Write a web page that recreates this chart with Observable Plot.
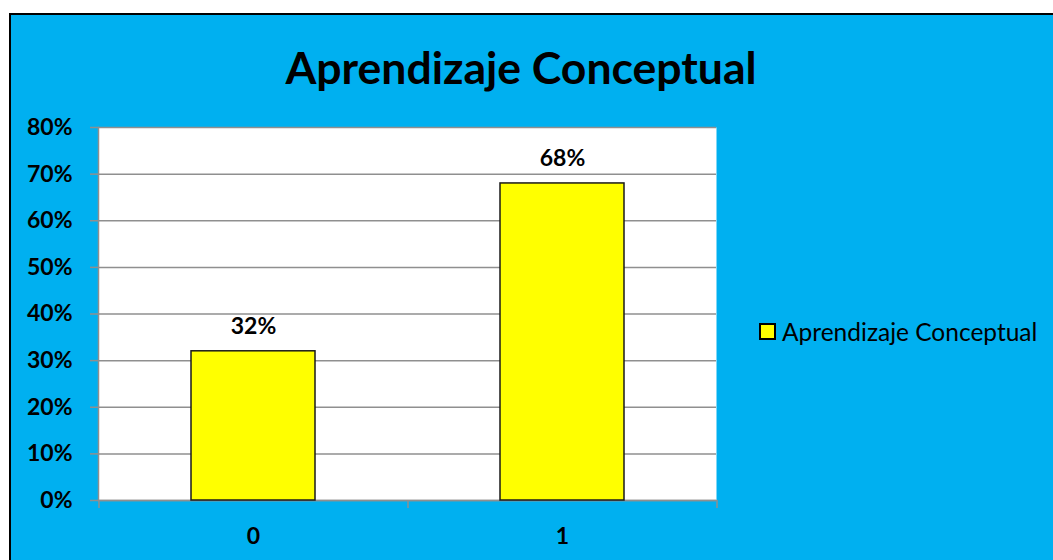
<!DOCTYPE html>
<html>
<head>
<meta charset="utf-8">
<script src="https://cdn.jsdelivr.net/npm/d3@7"></script>
<script src="https://cdn.jsdelivr.net/npm/@observablehq/plot@0.6"></script>
<style>
  html, body { margin: 0; padding: 0; background: #ffffff; }
  #wrap { position: relative; width: 1053px; height: 560px; overflow: hidden; font-family: Lato, "Noto Sans", sans-serif; }
  #panel { position: absolute; left: 9px; top: 13px; width: 1060px; height: 560px; background: #00B0F0; border-left: 2px solid #000; border-top: 2px solid #000; box-sizing: border-box; }
  #chart { position: absolute; left: 0; top: 0; }
  #title { position: absolute; left: 0; top: 45px; width: 1042px; text-align: center; font-weight: 700; font-size: 44.5px; color: #000; line-height: 1; }
  #legend { position: absolute; left: 759px; top: 317px; display: flex; align-items: center; font-size: 24.5px; color: #000; white-space: nowrap; }
  #legend .sw { width: 13px; height: 13px; background: #FFFF00; border: 2px solid #000; margin-right: 6px; }
</style>
</head>
<body>
<div id="wrap">
  <div id="panel"></div>
  <div id="chart"></div>
  <div id="title">Aprendizaje Conceptual</div>
  <div id="legend"><span class="sw"></span><span>Aprendizaje Conceptual</span></div>
</div>
<script>
const categories = ["0", "1"];
const values = [0.32, 0.68];
const yTicks = [0, 0.1, 0.2, 0.3, 0.4, 0.5, 0.6, 0.7, 0.8];
const seriesName = "Aprendizaje Conceptual";

const data = categories.map((c, i) => ({category: c, value: values[i]}));
const pct = d3.format(".0%");

const W = 1053, H = 560;
const mL = 98, mR = 337, mT = 127, mB = 60;
const step = (W - mL - mR) / categories.length;
const grid = "#8f8f8f";

const chart = Plot.plot({
  width: W,
  height: H,
  marginLeft: mL,
  marginRight: mR,
  marginTop: mT,
  marginBottom: mB,
  style: {background: "transparent", fontFamily: "Lato, 'Noto Sans', sans-serif", overflow: "visible"},
  x: {type: "band", domain: categories, paddingInner: 0.6, paddingOuter: 0.3},
  y: {domain: [0, 0.8]},
  marks: [
    Plot.frame({fill: "#ffffff", stroke: null}),
    Plot.gridY(yTicks, {stroke: grid, strokeOpacity: 1, strokeWidth: 1.5}),
    Plot.frame({anchor: "left", stroke: grid, strokeWidth: 1.5}),
    Plot.frame({anchor: "bottom", stroke: grid, strokeWidth: 1.5}),
    Plot.axisY({ticks: yTicks, tickFormat: pct, tickSize: 8, tickPadding: 18, stroke: grid, strokeWidth: 1.5, fontSize: 23, fontWeight: "bold", fill: "#000", label: null}),
    Plot.axisX({tickSize: 0, tickPadding: 27, fontSize: 23, fontWeight: "bold", fill: "#000", label: null}),
    Plot.ruleX(categories, {x: d => d, dx: -step / 2, y1: 0, y2: -0.017, stroke: grid, strokeWidth: 1.5}),
    Plot.ruleX(categories.slice(-1), {x: d => d, dx: step / 2, y1: 0, y2: -0.017, stroke: grid, strokeWidth: 1.5}),
    Plot.barY(data, {x: "category", y: "value", fill: "#FFFF00", stroke: "#1a1a1a", strokeWidth: 1.5}),
    Plot.text(data, {x: "category", y: "value", text: d => pct(d.value), dy: -17, lineAnchor: "bottom", fontSize: 23, fontWeight: "bold", fill: "#000"})
  ]
});
document.getElementById("chart").appendChild(chart);
</script>
</body>
</html>
